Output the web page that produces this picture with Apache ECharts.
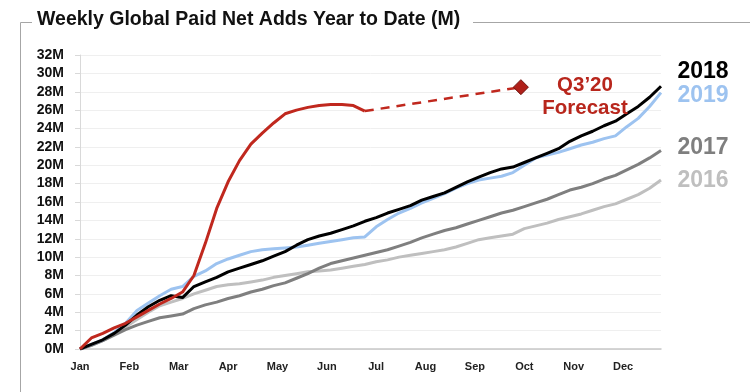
<!DOCTYPE html>
<html><head><meta charset="utf-8">
<script src="https://cdn.jsdelivr.net/npm/echarts@6/dist/echarts.min.js"></script>
<style>html,body{margin:0;padding:0;background:#fff}#c{width:750px;height:392px}</style>
</head><body><div id="c"></div>
<script>
const months = ['Jan','Feb','Mar','Apr','May','Jun','Jul','Aug','Sep','Oct','Nov','Dec'];
const yTicks = [0,2,4,6,8,10,12,14,16,18,20,22,24,26,28,30,32];
// weekly cumulative paid net adds (M), week 0..51
const s2016 = [0,0.4,0.9,1.6,2.4,3.2,4.0,4.7,5.1,5.5,6.0,6.4,6.8,7.0,7.1,7.3,7.5,7.8,8.0,8.2,8.4,8.5,8.6,8.8,9.0,9.2,9.5,9.7,10.0,10.2,10.4,10.6,10.8,11.1,11.5,11.9,12.1,12.3,12.5,13.1,13.4,13.7,14.1,14.4,14.7,15.1,15.5,15.8,16.3,16.8,17.5,18.4];
const s2017 = [0,0.4,0.9,1.5,2.1,2.6,3.0,3.4,3.6,3.8,4.4,4.8,5.1,5.5,5.8,6.2,6.5,6.9,7.2,7.7,8.2,8.8,9.3,9.6,9.9,10.2,10.5,10.8,11.2,11.6,12.1,12.5,12.9,13.2,13.6,14.0,14.4,14.8,15.1,15.5,15.9,16.3,16.8,17.3,17.6,18.0,18.5,18.9,19.5,20.1,20.8,21.6];
const s2018 = [0,0.5,1.0,1.7,2.6,3.7,4.6,5.3,5.8,5.6,6.8,7.3,7.8,8.4,8.8,9.2,9.6,10.1,10.6,11.3,11.9,12.3,12.6,13.0,13.4,13.9,14.3,14.8,15.2,15.6,16.2,16.6,17.0,17.6,18.2,18.7,19.2,19.6,19.8,20.3,20.8,21.3,21.8,22.6,23.2,23.7,24.3,24.8,25.6,26.4,27.4,28.6];
const s2019 = [0,0.5,1.0,1.8,2.8,4.2,5.0,5.8,6.5,6.8,7.9,8.5,9.3,9.8,10.2,10.6,10.8,10.9,11.0,11.1,11.3,11.5,11.7,11.9,12.1,12.2,13.3,14.1,14.8,15.3,15.9,16.4,16.9,17.5,18.0,18.4,18.6,18.8,19.2,20.0,20.8,21.1,21.4,21.8,22.2,22.5,22.9,23.2,24.2,25.1,26.4,27.9];
const s2020 = [0,1.2,1.7,2.3,2.8,3.5,4.2,4.9,5.5,6.2,8.0,11.5,15.3,18.2,20.5,22.3,23.5,24.6,25.6,26.0,26.3,26.5,26.6,26.6,26.5,25.9];
const forecastWeek = 38.7;
const forecastValue = 28.5;

const toPts = arr => arr.map((v,i)=>[i,v]);
const wpm = 52/12;
const red = '#C0281E';
const font = '"Liberation Sans", Arial, sans-serif';

const chart = echarts.init(document.getElementById('c'), null, {renderer:'canvas'});
const lineSeries = (name, data, color, z) => ({
  name, type:'line', data: toPts(data), symbol:'none', smooth:false, z,
  lineStyle:{color, width:3}, animation:false
});
chart.setOption({
  animation:false,
  grid:{left:80, right:89, top:55, bottom:43, containLabel:false},
  xAxis:{type:'value', min:0, max:51, interval:wpm,
    axisLine:{show:true, lineStyle:{color:'#C8C8C8', width:1.5}},
    axisTick:{show:false}, splitLine:{show:false},
    axisLabel:{margin:12, fontFamily:font, fontWeight:'bold', fontSize:11, color:'#222', showMaxLabel:false,
      formatter:v=>{const k=Math.round(v/wpm); return (Math.abs(v-k*wpm)<0.01 && k<12)?months[k]:'';}}},
  yAxis:{type:'value', min:yTicks[0], max:yTicks[yTicks.length-1], interval:2,
    axisLine:{show:true, lineStyle:{color:'#D9D9D9'}},
    axisTick:{show:true, length:5, lineStyle:{color:'#D9D9D9'}},
    splitLine:{show:true, lineStyle:{color:'#EFEFEF'}},
    axisLabel:{margin:16, fontFamily:font, fontWeight:'bold', fontSize:14, color:'#111', formatter:v=>v+'M'}},
  series:[
    lineSeries('2016', s2016, '#BFBFBF', 1),
    lineSeries('2017', s2017, '#7F7F7F', 2),
    lineSeries('2019', s2019, '#9DC3F0', 3),
    lineSeries('2018', s2018, '#000000', 4),
    lineSeries('2020', s2020, red, 5),
    {name:'forecast', type:'line', data:[[s2020.length-1, s2020[s2020.length-1]],[forecastWeek, forecastValue]],
      symbol:'none', lineStyle:{color:red, width:2.5, type:[9,7]}, z:5},
    {name:'q3', type:'scatter', data:[[forecastWeek, forecastValue]], symbol:'diamond', symbolSize:[15,15],
      itemStyle:{color:'#B0201A', opacity:1, borderColor:'#6E120E', borderWidth:1}, z:6}
  ],
  graphic:[
    {type:'polyline', z:100, shape:{points:[[32,22.5],[20.5,22.5],[20.5,392]]}, style:{stroke:'#A6A6A6', lineWidth:1, fill:null}},
    {type:'line', z:100, shape:{x1:473, y1:22.5, x2:750, y2:22.5}, style:{stroke:'#A6A6A6', lineWidth:1}},
    {type:'text', z:100, left:37, top:10, style:{text:'Weekly Global Paid Net Adds Year to Date (M)', font:'bold 19.5px '+font, fill:'#111'}},
    {type:'text', z:100, x:585, y:85, style:{text:'Q3\u201920', font:'bold 20.5px '+font, fill:'#B8261C', align:'center', verticalAlign:'middle'}},
    {type:'text', z:100, x:585, y:108, style:{text:'Forecast', font:'bold 20.5px '+font, fill:'#B8261C', align:'center', verticalAlign:'middle'}},
    {type:'text', z:100, x:703, y:72, style:{text:'2018', font:'bold 23px '+font, fill:'#000', align:'center', verticalAlign:'middle'}},
    {type:'text', z:100, x:703, y:96, style:{text:'2019', font:'bold 23px '+font, fill:'#9DC3F0', align:'center', verticalAlign:'middle'}},
    {type:'text', z:100, x:703, y:148, style:{text:'2017', font:'bold 23px '+font, fill:'#7F7F7F', align:'center', verticalAlign:'middle'}},
    {type:'text', z:100, x:703, y:181, style:{text:'2016', font:'bold 23px '+font, fill:'#BFBFBF', align:'center', verticalAlign:'middle'}}
  ]
});
</script></body></html>
